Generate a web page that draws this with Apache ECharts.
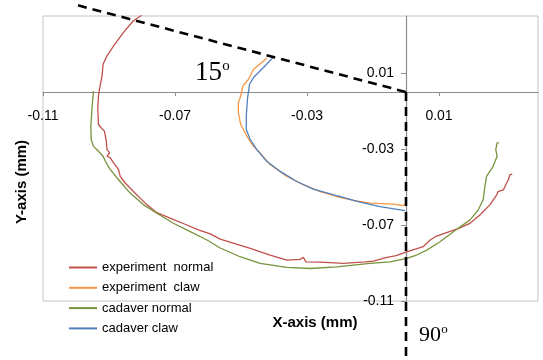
<!DOCTYPE html>
<html>
<head>
<meta charset="utf-8">
<script src="https://cdn.jsdelivr.net/npm/echarts@6/dist/echarts.min.js"></script>
<style>html,body{margin:0;padding:0;background:#fff;}#c{width:543px;height:360px;}</style>
</head>
<body>
<div id="c"></div>
<script>
var seriesNames = ["experiment  normal", "experiment  claw", "cadaver normal", "cadaver claw"];
var seriesColors = ["#C0504D", "#F79646", "#77933C", "#4F81BD"];
var xTicks = [-0.11, -0.07, -0.03, 0.01];
var yTicks = [-0.11, -0.07, -0.03, 0.01];

var experimentNormal = [
  [-0.0800,0.0405],[-0.0826,0.0375],[-0.0856,0.0314],[-0.0886,0.0243],[-0.0906,0.0190],
  [-0.0918,0.0146],[-0.0921,0.0085],[-0.0927,0.0032],[-0.0932,-0.0021],[-0.0934,-0.0091],
  [-0.0932,-0.0171],[-0.0924,-0.0188],[-0.0914,-0.0206],[-0.0908,-0.0259],[-0.0906,-0.0303],
  [-0.0898,-0.0320],[-0.0906,-0.0338],[-0.0896,-0.0347],[-0.0886,-0.0373],[-0.0871,-0.0409],
  [-0.0866,-0.0444],[-0.0851,-0.0479],[-0.0826,-0.0524],[-0.0790,-0.0585],[-0.0755,-0.0635],
  [-0.0715,-0.0664],[-0.0664,-0.0700],[-0.0629,-0.0726],[-0.0593,-0.0747],[-0.0563,-0.0774],
  [-0.0472,-0.0823],[-0.0412,-0.0858],[-0.0361,-0.0885],[-0.0321,-0.0881],[-0.0311,-0.0870],
  [-0.0303,-0.0894],[-0.0260,-0.0895],[-0.0190,-0.0902],[-0.0124,-0.0894],[-0.0119,-0.0885],
  [-0.0099,-0.0890],[-0.0058,-0.0870],[-0.0030,-0.0861],[0.0002,-0.0841],[0.0052,-0.0814],
  [0.0073,-0.0779],[0.0093,-0.0758],[0.0123,-0.0740],[0.0154,-0.0722],[0.0194,-0.0691],
  [0.0224,-0.0647],[0.0254,-0.0594],[0.0275,-0.0541],[0.0279,-0.0524],[0.0295,-0.0515],
  [0.0300,-0.0497],[0.0305,-0.0479],[0.0310,-0.0462],[0.0315,-0.0435],[0.0322,-0.0432]
];
var experimentClaw = [
  [-0.0422,0.0178],[-0.0437,0.0155],[-0.0462,0.0120],[-0.0477,0.0067],[-0.0494,0.0032],
  [-0.0501,-0.0021],[-0.0508,-0.0056],[-0.0508,-0.0109],[-0.0501,-0.0171],[-0.0482,-0.0233],
  [-0.0462,-0.0286],[-0.0442,-0.0320],[-0.0412,-0.0382],[-0.0361,-0.0444],[-0.0311,-0.0488],
  [-0.0260,-0.0524],[-0.0210,-0.0550],[-0.0160,-0.0571],[-0.0109,-0.0585],[-0.0038,-0.0590],
  [-0.0008,-0.0598],[-0.0003,-0.0589]
];
var cadaverNormal = [
  [-0.0947,0.0005],[-0.0951,-0.0074],[-0.0955,-0.0180],[-0.0954,-0.0250],[-0.0947,-0.0286],
  [-0.0932,-0.0312],[-0.0918,-0.0338],[-0.0911,-0.0365],[-0.0896,-0.0409],[-0.0871,-0.0462],
  [-0.0836,-0.0532],[-0.0795,-0.0594],[-0.0755,-0.0638],[-0.0705,-0.0691],[-0.0654,-0.0735],
  [-0.0603,-0.0779],[-0.0563,-0.0821],[-0.0503,-0.0867],[-0.0442,-0.0902],[-0.0361,-0.0923],
  [-0.0291,-0.0929],[-0.0210,-0.0920],[-0.0109,-0.0902],[-0.0048,-0.0894],[0.0002,-0.0876],
  [0.0032,-0.0858],[0.0063,-0.0832],[0.0103,-0.0788],[0.0154,-0.0722],[0.0194,-0.0673],
  [0.0219,-0.0620],[0.0234,-0.0567],[0.0239,-0.0497],[0.0244,-0.0444],[0.0264,-0.0391],
  [0.0276,-0.0338],[0.0272,-0.0303],[0.0276,-0.0268],[0.0282,-0.0268]
];
var cadaverClaw = [
  [-0.0399,0.0189],[-0.0432,0.0129],[-0.0462,0.0076],[-0.0474,0.0041],[-0.0480,-0.0030],
  [-0.0484,-0.0127],[-0.0484,-0.0197],[-0.0472,-0.0250],[-0.0452,-0.0303],[-0.0422,-0.0365],
  [-0.0381,-0.0418],[-0.0331,-0.0471],[-0.0281,-0.0511],[-0.0210,-0.0546],[-0.0139,-0.0580],
  [-0.0079,-0.0603],[-0.0003,-0.0624]
];
var line15 = [[-0.0994,0.0456],[0,0]];
var line90 = [[0,0],[0,-0.1414]];

var chart = echarts.init(document.getElementById('c'), null, {renderer:'canvas'});
var axisGray = '#8c8c8c';
function fmt(v){ return (Math.round(v*100)/100).toFixed(2); }
function curve(name, data, color){
  return {name:name, type:'line', data:data, symbol:'none', showSymbol:false, smooth:false,
    lineStyle:{color:color, width:1.3}, itemStyle:{color:color}, z:3};
}
function dashed(data){
  return {type:'line', data:data, symbol:'none', showSymbol:false, clip:false, silent:true,
    lineStyle:{color:'#000', width:2.6, type:[9,6]}, z:4, legendHoverLink:false};
}
var option = {
  animation:false,
  backgroundColor:'#fff',
  grid:{left:43, right:5, top:16, bottom:59, show:true, borderColor:'#c4c4c4', borderWidth:1, containLabel:false, outerBoundsMode:'none'},
  xAxis:{type:'value', min:xTicks[0], max:0.04, interval:0.04, offset:0,
    splitLine:{show:false},
    axisLine:{onZero:false, lineStyle:{color:axisGray, width:1.2}},
    axisTick:{show:true, length:4, lineStyle:{color:axisGray}},
    axisLabel:{showMaxLabel:false, showMinLabel:true, margin:17, fontSize:14, fontFamily:'Liberation Sans', color:'#000', formatter:fmt}},
  yAxis:{type:'value', min:yTicks[0], max:0.04, interval:0.04, offset:0,
    splitLine:{show:false},
    axisLine:{onZero:false, lineStyle:{color:axisGray, width:1.2}},
    axisTick:{show:true, length:5, lineStyle:{color:axisGray}},
    axisLabel:{showMaxLabel:false, showMinLabel:true, margin:12, fontSize:14, fontFamily:'Liberation Sans', color:'#000', formatter:fmt}},
  legend:{orient:'vertical', left:64, top:256, itemWidth:28, itemHeight:2, itemGap:7.3, icon:'rect',
    data:seriesNames, textStyle:{fontSize:13, fontFamily:'Liberation Sans', color:'#000'}},
  series:[
    curve(seriesNames[0], experimentNormal, seriesColors[0]),
    curve(seriesNames[1], experimentClaw, seriesColors[1]),
    curve(seriesNames[2], cadaverNormal, seriesColors[2]),
    curve(seriesNames[3], cadaverClaw, seriesColors[3]),
    dashed(line15),
    dashed(line90)
  ],
  graphic:[
    {type:'text', x:315, y:323, style:{text:'X-axis (mm)', align:'center', verticalAlign:'middle', font:'bold 15px "Liberation Sans"', fill:'#000'}},
    {type:'text', x:22, y:182, rotation:Math.PI/2, style:{text:'Y-axis (mm)', align:'center', verticalAlign:'middle', font:'bold 15px "Liberation Sans"', fill:'#000'}},
    {type:'text', x:195, y:73, style:{text:'15', align:'left', verticalAlign:'middle', font:'27px "Liberation Serif"', fill:'#000'}},
    {type:'text', x:226, y:66, style:{text:'o', align:'center', verticalAlign:'middle', font:'15px "Liberation Serif"', fill:'#000'}},
    {type:'text', x:419, y:335, style:{text:'90', align:'left', verticalAlign:'middle', font:'22px "Liberation Serif"', fill:'#000'}},
    {type:'text', x:444.5, y:330, style:{text:'o', align:'center', verticalAlign:'middle', font:'13px "Liberation Serif"', fill:'#000'}}
  ]
};
chart.setOption(option);
// Move both axes (line, ticks, labels) to cross at zero, using the library's own scales
var pZero = chart.convertToPixel({gridIndex:0}, [0, 0]);
var pMin = chart.convertToPixel({gridIndex:0}, [xTicks[0], yTicks[0]]);
chart.setOption({
  xAxis:{offset: pZero[1] - pMin[1]},
  yAxis:{offset: pMin[0] - pZero[0]}
});
</script>
</body>
</html>
